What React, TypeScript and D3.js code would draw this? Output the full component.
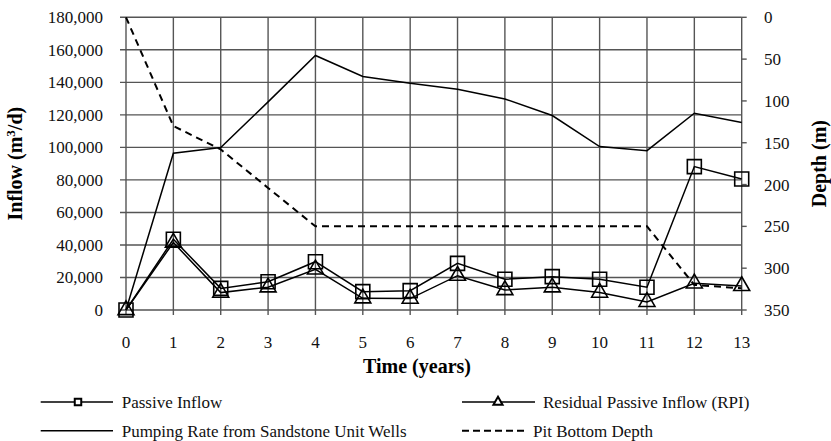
import React from "react";
import * as d3 from "d3";

const years = [0, 1, 2, 3, 4, 5, 6, 7, 8, 9, 10, 11, 12, 13];
const passiveInflow = [0, 43500, 13300, 17400, 29700, 11300, 11900, 28700, 18900, 20500, 18900, 14000, 88200, 80600];
const residualInflow = [0, 41500, 10700, 14000, 25000, 7200, 7000, 21100, 12300, 14000, 10700, 5000, 16400, 14800];
const pumpingRate = [0, 96400, 99900, 128000, 156500, 143600, 139500, 135800, 129800, 119600, 100500, 98000, 121000, 115300];
const pitDepth = [0, 130, 158, 204, 250, 250, 250, 250, 250, 250, 250, 250, 320, 324];
const leftTicks = [0, 20000, 40000, 60000, 80000, 100000, 120000, 140000, 160000, 180000];
const rightTicks = [0, 50, 100, 150, 200, 250, 300, 350];

const FONT = '"Liberation Serif", "Times New Roman", Times, "DejaVu Serif", serif';

export default function App() {
  const W = 831, H = 441;
  const L = 126, R = 741.7, T = 17.3, B = 310;
  const x = d3.scaleLinear().domain([0, 13]).range([L, R]);
  const yL = d3.scaleLinear().domain([0, 180000]).range([B, T]);
  const yR = d3.scaleLinear().domain([0, 350]).range([T, B]);

  const lineL = d3.line<number>().x((_, i) => x(years[i])).y((v) => yL(v));
  const lineR = d3.line<number>().x((_, i) => x(years[i])).y((v) => yR(v));

  const sq = d3.symbol(d3.symbolSquare, 196)();
  const tri = d3.symbol(d3.symbolTriangle, 110)();
  const sqSmall = d3.symbol(d3.symbolSquare, 42)();
  const triSmall = d3.symbol(d3.symbolTriangle, 36)();

  const grid = "#555";

  return (
    <svg width={W} height={H} style={{ position: "absolute", left: 0, top: 0, background: "#fff", fontFamily: FONT }}>
      {leftTicks.map((t) => (
        <line key={"h" + t} x1={L - 6} x2={R} y1={yL(t)} y2={yL(t)} stroke={grid} strokeWidth={1.4} />
      ))}
      {years.map((t) => (
        <line key={"v" + t} x1={x(t)} x2={x(t)} y1={T} y2={B + 5} stroke={grid} strokeWidth={1.4} />
      ))}
      {rightTicks.map((t) => (
        <line key={"r" + t} x1={R} x2={R + 5} y1={yR(t)} y2={yR(t)} stroke={grid} strokeWidth={1.4} />
      ))}
      {leftTicks.map((t) => (
        <text key={"lt" + t} x={103} y={yL(t)} dy="0.35em" textAnchor="end" fontSize={17} fill="#111" style={{ fontFamily: FONT }}>
          {d3.format(",")(t)}
        </text>
      ))}
      {rightTicks.map((t) => (
        <text key={"rt" + t} x={764} y={yR(t)} dy="0.35em" textAnchor="start" fontSize={17} fill="#111" style={{ fontFamily: FONT }}>
          {t}
        </text>
      ))}
      {years.map((t) => (
        <text key={"bt" + t} x={x(t)} y={348} textAnchor="middle" fontSize={17} fill="#111" style={{ fontFamily: FONT }}>
          {t}
        </text>
      ))}

      <path d={lineL(pumpingRate) || ""} fill="none" stroke="#000" strokeWidth={1.5} />
      <path d={lineR(pitDepth) || ""} fill="none" stroke="#000" strokeWidth={2} strokeDasharray="7,5" />
      <path d={lineL(passiveInflow) || ""} fill="none" stroke="#000" strokeWidth={1.5} />
      <path d={lineL(residualInflow) || ""} fill="none" stroke="#000" strokeWidth={1.5} />
      {passiveInflow.map((v, i) => (
        <path key={"s" + i} d={sq} transform={`translate(${x(years[i])},${yL(v)})`} fill="none" stroke="#000" strokeWidth={1.6} />
      ))}
      {residualInflow.map((v, i) => (
        <path key={"t" + i} d={tri} transform={`translate(${x(years[i])},${yL(v)})`} fill="none" stroke="#000" strokeWidth={1.6} />
      ))}

      <text x={417} y={373} textAnchor="middle" fontSize={20} fontWeight="bold" style={{ fontFamily: FONT }}>Time (years)</text>
      <text transform={`translate(22,${(T + B) / 2}) rotate(-90)`} textAnchor="middle" fontSize={20} fontWeight="bold" style={{ fontFamily: FONT }}>
        Inflow (m<tspan dy="-7" fontSize={13}>3</tspan><tspan dy="7">/d)</tspan>
      </text>
      <text transform={`translate(826,${(T + B) / 2}) rotate(-90)`} textAnchor="middle" fontSize={20} fontWeight="bold" style={{ fontFamily: FONT }}>
        Depth (m)
      </text>

      <g fontSize={17} fill="#111" style={{ fontFamily: FONT }}>
        <line x1={40.7} x2={113} y1={402} y2={402} stroke="#000" strokeWidth={1.5} />
        <path d={sqSmall} transform="translate(78,402)" fill="#fff" stroke="#000" strokeWidth={2} />
        <text x={121.7} y={402} dy="0.35em">Passive Inflow</text>

        <line x1={462} x2={535} y1={402} y2={402} stroke="#000" strokeWidth={1.5} />
        <path d={triSmall} transform="translate(498,402)" fill="#fff" stroke="#000" strokeWidth={2} />
        <text x={543} y={402} dy="0.35em">Residual Passive Inflow (RPI)</text>

        <line x1={40.7} x2={113} y1={430.7} y2={430.7} stroke="#000" strokeWidth={1.5} />
        <text x={121.7} y={430.7} dy="0.35em">Pumping Rate from Sandstone Unit Wells</text>

        <line x1={462} x2={528} y1={430.7} y2={430.7} stroke="#000" strokeWidth={2} strokeDasharray="7,4" />
        <text x={533} y={430.7} dy="0.35em">Pit Bottom Depth</text>
      </g>
    </svg>
  );
}
